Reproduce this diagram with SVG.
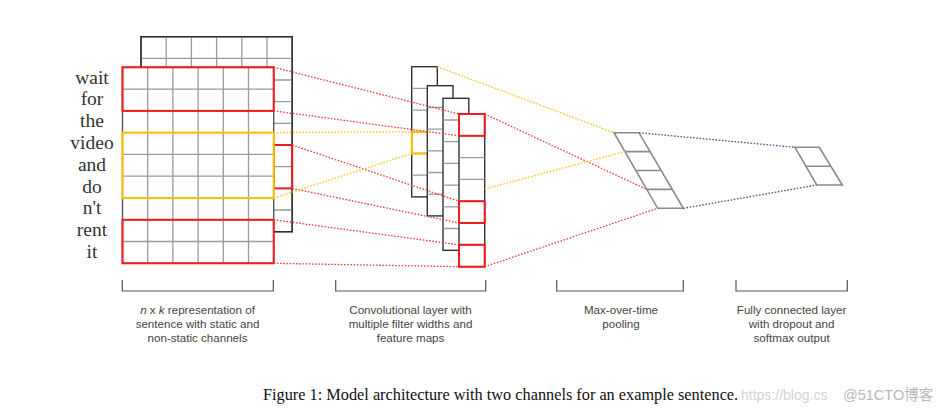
<svg xmlns="http://www.w3.org/2000/svg" width="949" height="415" viewBox="0 0 949 415">
<style>
.grid{fill:#fff;stroke:#333;stroke-width:1.4}
.inner{stroke:#9a9a9a;stroke-width:1.3;fill:none}
.red{fill:none;stroke:#f21b1b;stroke-width:2}
.org{fill:none;stroke:#ffbf00;stroke-width:2}
.dr{stroke:#f53a3a;stroke-width:1.3;stroke-dasharray:1.6 1.6;fill:none}
.dy{stroke:#ffc21a;stroke-width:1.3;stroke-dasharray:1.6 1.6;fill:none}
.db{stroke:#3e5a8e;stroke-width:1.3;stroke-dasharray:1.6 1.6;fill:none}
.pool{stroke:#8a8a8a;stroke-width:1.6;fill:none}
.word{font-family:"Liberation Serif",serif;font-size:19.5px;fill:#333;text-anchor:middle}
.lbl{font-family:"Liberation Sans",Arial,sans-serif;font-size:11.6px;fill:#444;text-anchor:middle}
.brk{stroke:#555;stroke-width:1.2;fill:none}
</style>
<rect width="949" height="415" fill="#fff"/>

<g id="words">
<text class="word" x="92" y="83.5">wait</text>
<text class="word" x="92" y="105.3">for</text>
<text class="word" x="92" y="127.1">the</text>
<text class="word" x="92" y="148.9">video</text>
<text class="word" x="92" y="170.7">and</text>
<text class="word" x="92" y="192.5">do</text>
<text class="word" x="92" y="214.3">n't</text>
<text class="word" x="92" y="236.1">rent</text>
<text class="word" x="92" y="257.9">it</text>
</g>

<g id="input-matrix">
<rect class="grid" x="141" y="36.7" width="151.2" height="195"/>
<path class="inner" d="M166.2,36.7V231.7M191.4,36.7V231.7M216.6,36.7V231.7M241.8,36.7V231.7M267,36.7V231.7M141,58.4H292.2M141,80H292.2M141,101.7H292.2M141,123.4H292.2M141,145H292.2M141,166.7H292.2M141,188.4H292.2M141,210H292.2"/>
<rect class="grid" x="141" y="36.7" width="151.2" height="195" style="fill:none"/>
<rect class="red" x="273.7" y="145" width="18.5" height="43.4"/>
<rect class="grid" x="122.5" y="67.3" width="151.2" height="196" style="stroke:#555"/>
<path class="inner" d="M147.7,67.3V263.3M172.9,67.3V263.3M198.1,67.3V263.3M223.3,67.3V263.3M248.5,67.3V263.3M122.5,89.1H273.7M122.5,110.9H273.7M122.5,132.6H273.7M122.5,154.4H273.7M122.5,176.2H273.7M122.5,198H273.7M122.5,219.8H273.7M122.5,241.5H273.7"/>
<rect class="red" x="122.5" y="67.3" width="151.2" height="43.6"/>
<rect class="red" x="122.5" y="219.8" width="151.2" height="43.5"/>
<rect class="org" x="122.5" y="132.6" width="151.2" height="65.4"/>
</g>

<g id="conv-layer">
<rect class="grid" x="411.7" y="66.7" width="25.6" height="130.2"/>
<path class="inner" d="M411.7,88.4H437.3M411.7,110.1H437.3M411.7,131.8H437.3M411.7,153.5H437.3M411.7,175.2H437.3"/>
<rect class="org" x="411.7" y="131.8" width="25.6" height="21.7"/>
<rect class="grid" x="427.3" y="85.7" width="25.7" height="130.2"/>
<path class="inner" d="M427.3,107.4H453M427.3,129.1H453M427.3,150.8H453M427.3,172.5H453M427.3,194.2H453"/>
<rect class="grid" x="443" y="98.3" width="25.8" height="152"/>
<path class="inner" d="M443,120H468.8M443,141.7H468.8M443,163.4H468.8M443,185.1H468.8M443,206.8H468.8M443,228.5H468.8"/>
<rect class="grid" x="459" y="114" width="25.7" height="152.7"/>
<path class="inner" d="M459,135.8H484.7M459,157.6H484.7M459,179.4H484.7M459,201.2H484.7M459,223H484.7M459,244.8H484.7"/>
<rect class="red" x="459" y="114" width="25.7" height="21.8"/>
<rect class="red" x="459" y="201.2" width="25.7" height="21.8"/>
<rect class="red" x="459" y="244.8" width="25.7" height="21.9"/>
</g>

<g id="pooling">
<path class="pool" d="M614,132.7H639L683.3,208.3H657.7ZM624.9,151.6H650M635.9,170.5H661.2M646.8,189.4H672.2"/>
</g>

<g id="fully-connected">
<path class="pool" d="M795,147.3H819.3L842.3,185H816.7ZM806,166.2H830.8"/>
</g>

<g id="connectors">
<path class="dr" d="M273.7,67.3L459,114M273.7,110.9L459,135.8M292.2,145L459,201.2M292.2,188.4L459,223M273.7,219.8L459,244.8M273.7,263.3L459,266.7M484.7,114L646.8,189.4M484.7,266.7L657.7,208.3"/>
<path class="dy" d="M273.7,132.6L411.7,131.8M273.7,198L411.7,153.5M437.3,66.7L614,132.7M484.7,189L624.9,151.6"/>
<path class="db" d="M639,132.7L795,147.3M683.3,208.3L816.7,185"/>
</g>

<g id="labels">
<path class="brk" d="M122.3,280V291H273.3V280M335.7,280V291H485.7V280M556.7,280V291H683.3V280M736,280V291H847.3V280"/>
<text class="lbl" x="197.5" y="313.5"><tspan font-style="italic">n</tspan> x <tspan font-style="italic">k</tspan> representation of</text>
<text class="lbl" x="197.5" y="327.5">sentence with static and</text>
<text class="lbl" x="197.5" y="341.5">non-static channels</text>
<text class="lbl" x="410.5" y="313.5">Convolutional layer with</text>
<text class="lbl" x="410.5" y="327.5">multiple filter widths and</text>
<text class="lbl" x="410.5" y="341.5">feature maps</text>
<text class="lbl" x="621" y="313.5">Max-over-time</text>
<text class="lbl" x="621" y="327.5">pooling</text>
<text class="lbl" x="791.6" y="313.5">Fully connected layer</text>
<text class="lbl" x="791.6" y="327.5">with dropout and</text>
<text class="lbl" x="791.6" y="341.5">softmax output</text>
</g>

<g id="caption">
<text x="263" y="400" font-family="Liberation Serif,serif" font-size="16.3" fill="#111">Figure 1: Model architecture with two channels for an example sentence.</text>
<text x="741" y="400" font-family="Liberation Sans,Arial,sans-serif" font-size="14" fill="#d2d2d2">https://blog.cs</text>
<text x="843" y="400" font-family="Liberation Sans,'Noto Sans CJK SC',sans-serif" font-size="14.5" fill="#b8b8b8">@51CTO博客</text>
</g>
</svg>
